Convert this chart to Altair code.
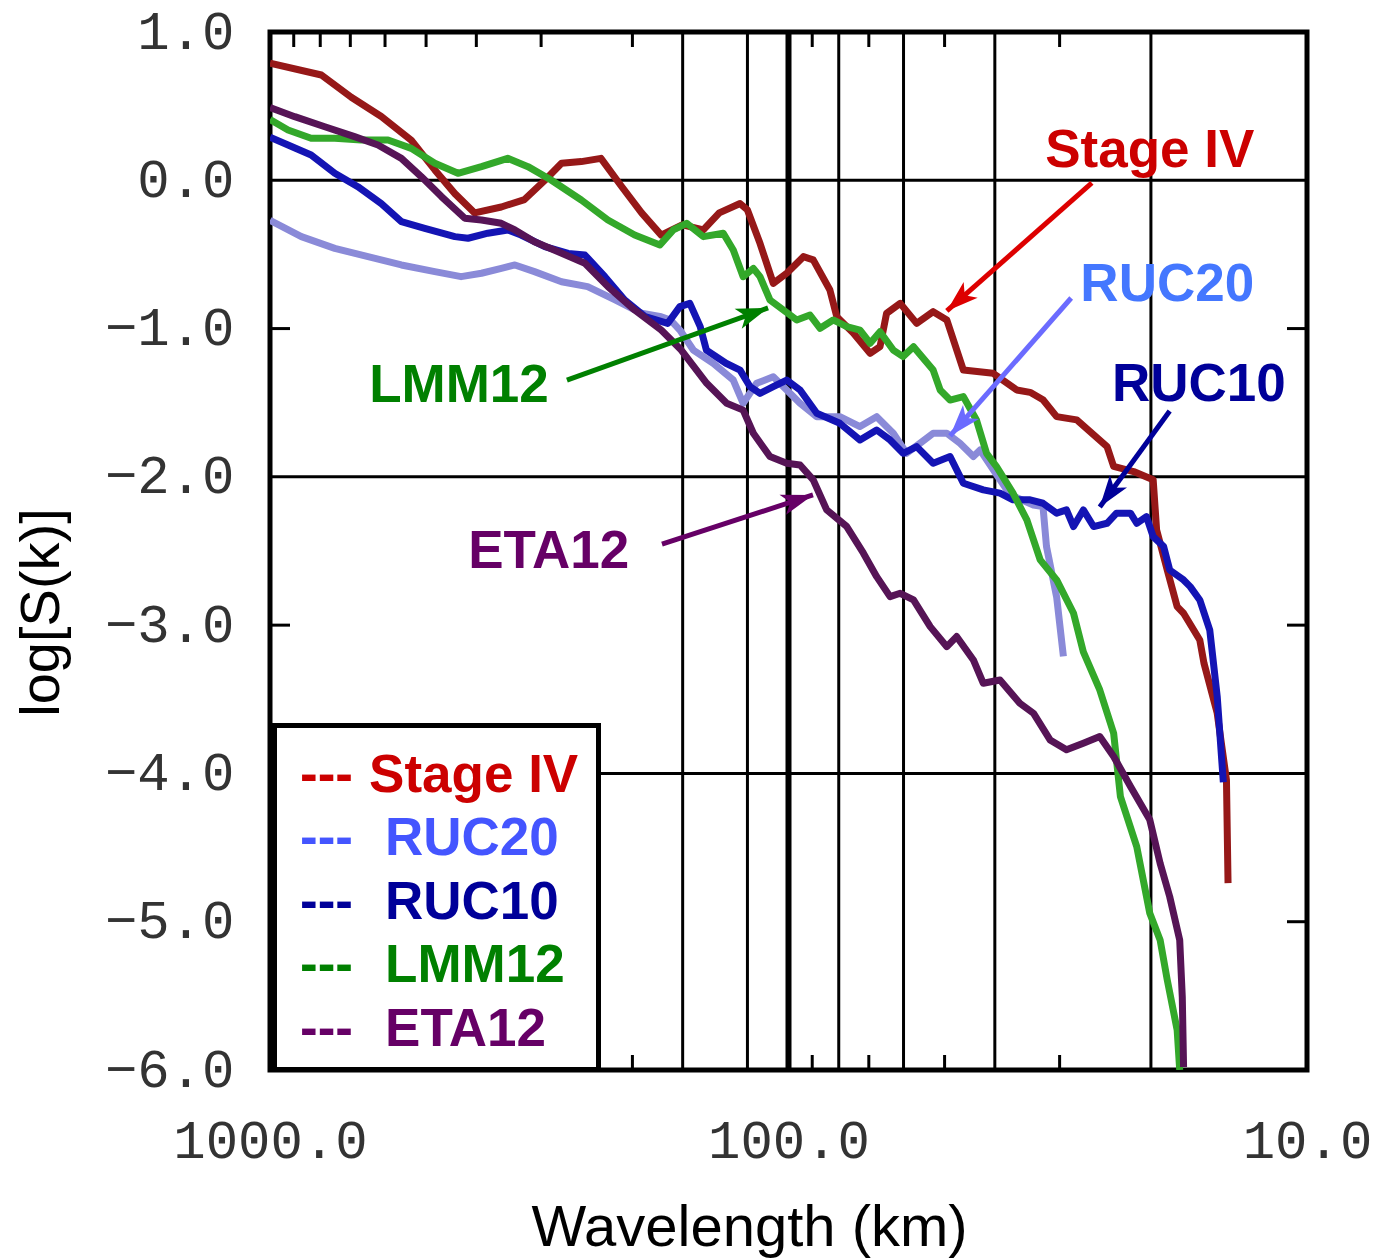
import altair as alt
import pandas as pd

# ---------------- data (wavelength km, log S(k)) ----------------
series_names = ["Stage IV", "RUC20", "RUC10", "LMM12", "ETA12"]
line_colors = {"Stage IV": "#961818", "RUC20": "#8a8ad8", "RUC10": "#1414b4",
               "LMM12": "#33a82a", "ETA12": "#561456"}
draw_order = ["Stage IV", "RUC20", "RUC10", "LMM12", "ETA12"]

stage_iv = [(1000, 0.79), (796, 0.71), (697, 0.56), (610, 0.43), (534, 0.27), (481, 0.07),
            (440, -0.09), (403, -0.22), (358, -0.18), (323, -0.13), (295, 0.0), (274, 0.115),
            (251, 0.126), (230, 0.148), (210, -0.04), (192, -0.22), (176, -0.37), (160, -0.30),
            (146, -0.335), (136, -0.22), (124, -0.157), (120, -0.2), (113.5, -0.425), (107, -0.695),
            (100.8, -0.627), (93.6, -0.515), (89.6, -0.537), (83.2, -0.74), (80.7, -0.92), (75, -1.03),
            (69.6, -1.167), (66.6, -1.122), (64.7, -0.897), (60.9, -0.83), (56.6, -0.965), (52.6, -0.886),
            (49.5, -0.942), (46, -1.28), (40.3, -1.302), (36.3, -1.414), (34.2, -1.43), (32.3, -1.48),
            (30.4, -1.594), (27.8, -1.616), (24.3, -1.796), (23.6, -1.93), (21.6, -1.964), (19.8, -2.02),
            (19.5, -2.358), (18.6, -2.628), (17.8, -2.875), (17.3, -2.92), (16.1, -3.10), (15.8, -3.257),
            (14.9, -3.594), (14.3, -4.044), (14.2, -4.74)]

ruc20 = [(1000, -0.27), (870, -0.38), (750, -0.459), (647, -0.515), (558, -0.571), (481, -0.616),
         (428, -0.65), (391, -0.627), (358, -0.594), (337, -0.571), (309, -0.616), (274, -0.684),
         (244, -0.717), (216, -0.807), (192, -0.897), (176, -0.92), (169, -0.942), (162, -1.01),
         (152.6, -1.145), (139.7, -1.234), (127.8, -1.347), (122.3, -1.504), (115.2, -1.369),
         (107, -1.325), (100.8, -1.414), (95, -1.504), (88.2, -1.594), (79.6, -1.594), (72.8, -1.661),
         (67.6, -1.594), (62.8, -1.706), (59.2, -1.841), (55.8, -1.774), (52.6, -1.706), (49.5, -1.706),
         (46.7, -1.774), (44, -1.863), (42.7, -1.819), (40.3, -1.95), (37.4, -2.12), (33.7, -2.19),
         (32.3, -2.2), (31.8, -2.47), (30.4, -2.81), (29.5, -3.21)]

ruc10 = [(1000, 0.29), (923, 0.238), (833, 0.17), (750, 0.047), (677, -0.043), (610, -0.157),
         (558, -0.279), (503, -0.324), (440, -0.38), (415, -0.391), (380, -0.357), (348, -0.335),
         (328, -0.369), (295, -0.448), (266, -0.493), (247, -0.504), (226, -0.65), (207, -0.807),
         (189, -0.92), (171, -0.965), (162, -0.852), (155, -0.83), (148, -0.987), (144, -1.145),
         (132, -1.234), (124, -1.28), (118.6, -1.392), (113.5, -1.437), (107, -1.392), (100.8, -1.347),
         (95, -1.414), (88.2, -1.571), (79.6, -1.639), (72.8, -1.751), (67.6, -1.684), (63.7, -1.751),
         (60.1, -1.841), (56.6, -1.796), (52.6, -1.908), (48.8, -1.863), (46, -2.043), (42.1, -2.088),
         (39.1, -2.11), (36.9, -2.155), (34.2, -2.155), (32.3, -2.178), (30.4, -2.245), (29.1, -2.223),
         (28.2, -2.335), (27, -2.223), (25.8, -2.335), (24.3, -2.313), (23.3, -2.245), (21.9, -2.245),
         (21.3, -2.313), (20.4, -2.268), (19.8, -2.403), (18.9, -2.47), (18.4, -2.628), (17.3, -2.695),
         (16.8, -2.74), (16.1, -2.83), (15.4, -3.033), (14.9, -3.48), (14.5, -4.06)]

lmm12 = [(1000, 0.41), (923, 0.339), (833, 0.283), (750, 0.283), (667, 0.272), (592, 0.272),
         (534, 0.215), (481, 0.115), (434, 0.047), (391, 0.092), (348, 0.148), (318, 0.092),
         (287, 0.002), (251, -0.133), (223, -0.268), (198, -0.369), (177, -0.436), (166.8, -0.335),
         (157.2, -0.29), (146, -0.38), (133.6, -0.357), (127.8, -0.47), (122.3, -0.65), (116.9, -0.594),
         (113.5, -0.65), (108.6, -0.807), (102.3, -0.875), (96.4, -0.942), (90.9, -0.909), (86.9, -0.998),
         (82, -0.942), (77.2, -0.987), (72.8, -1.01), (69.6, -1.099), (66.6, -1.021), (62.8, -1.145),
         (60.1, -1.189), (57.4, -1.122), (52.6, -1.28), (51.0, -1.414), (48.8, -1.482), (46, -1.459),
         (43.4, -1.616), (41.5, -1.841), (39.7, -1.931), (36.9, -2.11), (34.7, -2.29), (32.7, -2.56),
         (30.4, -2.695), (28.2, -2.92), (27, -3.18), (25.1, -3.437), (23.6, -3.729), (22.9, -4.157),
         (21.3, -4.494), (20.1, -4.943), (19.2, -5.123), (18.6, -5.393), (17.8, -5.73), (17.6, -6.0)]

eta12 = [(1000, 0.49), (896, 0.429), (784, 0.361), (687, 0.294), (619, 0.238), (558, 0.148),
         (511, 0.025), (467, -0.11), (421, -0.256), (391, -0.268), (358, -0.29), (337, -0.335),
         (309, -0.414), (278, -0.482), (247, -0.56), (223, -0.717), (198, -0.875), (176, -1.01),
         (161, -1.145), (143.8, -1.369), (131.6, -1.504), (122.3, -1.55), (116.9, -1.706),
         (108.6, -1.863), (100.8, -1.908), (95, -1.92), (89.6, -2.02), (84.4, -2.223), (77.2, -2.335),
         (71.7, -2.515), (67.6, -2.673), (63.7, -2.808), (60.9, -2.785), (57.4, -2.83), (53.3, -3.01),
         (49.5, -3.145), (47.4, -3.077), (44, -3.235), (42.1, -3.392), (39.1, -3.37), (35.8, -3.527),
         (33.7, -3.594), (31.3, -3.774), (29.1, -3.841), (27, -3.796), (25.1, -3.751), (23.6, -3.886),
         (21.9, -4.088), (20.1, -4.313), (19.2, -4.606), (18.4, -4.831), (17.6, -5.123), (17.4, -5.506),
         (17.3, -5.98)]

series_points = {"Stage IV": stage_iv, "RUC20": ruc20, "RUC10": ruc10,
                 "LMM12": lmm12, "ETA12": eta12}

# axis / grid values
x_label_values = [1000, 100, 10]
y_label_values = [1, 0, -1, -2, -3, -4, -5, -6]
vgrid_wl = [160, 120, 80, 60, 40, 20]
vgrid_thick_wl = [100]
hgrid_val = [0, -2, -4]
minor_tick_wl = [900, 800, 700, 600, 500, 400, 300, 200, 90, 70, 50, 30]
ytick_val = [-1, -3, -5]

# annotations
ann_labels = ["Stage IV", "RUC20", "RUC10", "LMM12", "ETA12"]
ann_wl = [20.1, 18.6, 16.16, 432, 290]
ann_val = [0.09, -0.814, -1.49, -1.495, -2.615]
ann_colors = ["#cc0000", "#4477ff", "#000099", "#008000", "#660066"]

arrow_start_wl = [26.0, 28.5, 18.4, 267.5, 175.4]
arrow_start_val = [-0.018, -0.794, -1.556, -1.347, -2.453]
arrow_tip_wl = [49.5, 48.8, 25.1, 109.5, 89.7]
arrow_tip_val = [-0.881, -1.724, -2.203, -0.861, -2.122]
arrow_angle = [228.6, 221.2, 216.1, 70.3, 72.0]
arrow_colors = ["#dd0000", "#6b6bff", "#000099", "#008000", "#660066"]

legend_colors = ["#cc0000", "#4455ff", "#000099", "#008000", "#660066"]
legend_label_wl = [644, 600, 600, 600, 600]
legend_dash_wl = [875, 875, 875, 875, 875]
legend_val = [-4.125, -4.55, -4.982, -5.406, -5.838]

# ---------------- build tables ----------------
rows = []
for name in draw_order:
    for i, (wl, v) in enumerate(series_points[name]):
        rows.append({"series": name, "wl": wl, "val": v, "idx": i, "col": line_colors[name]})
df = pd.DataFrame(rows)

W, H = 1037, 1038
FONT = "Liberation Sans"
MONO = "Liberation Mono"
GRID_W = 3

x_scale = alt.Scale(type="log", domain=[10, 1000], reverse=True)
y_scale = alt.Scale(domain=[-6, 1], nice=False, zero=False)

x_axis = alt.Axis(values=x_label_values, labelExpr="format(datum.value, '.1f')",
                  labelFont=MONO, labelFontSize=54, labelColor="#333333", labelPadding=44,
                  labelFlush=False, labelOverlap=False, labelBound=False, labelAngle=0,
                  labelLimit=0,
                  ticks=False, domain=False, grid=False,
                  title="Wavelength (km)", titleFont=FONT, titleFontSize=58,
                  titleFontWeight="normal", titleColor="black", titleX=479, titleY=175,
                  titleAlign="center", titleBaseline="alphabetic")
y_axis = alt.Axis(values=y_label_values, labelExpr="format(datum.value, '.1f')",
                  labelFont=MONO, labelFontSize=54, labelColor="#333333", labelPadding=36,
                  labelFlush=False, labelOverlap=False, labelBound=False, labelLimit=0,
                  ticks=False, domain=False, grid=False,
                  title="log[S(k)]", titleFont=FONT, titleFontSize=56,
                  titleFontWeight="normal", titleColor="black", titleX=-212, titleY=580,
                  titleAngle=270, titleAlign="center", titleBaseline="alphabetic")

x_enc = alt.X("wl:Q", scale=x_scale, axis=x_axis)
y_enc = alt.Y("val:Q", scale=y_scale, axis=y_axis)

vgrid = alt.Chart(pd.DataFrame({"wl": vgrid_wl})).mark_rule(color="black", strokeWidth=GRID_W).encode(x=x_enc)
vgrid_thick = alt.Chart(pd.DataFrame({"wl": vgrid_thick_wl})).mark_rule(color="black", strokeWidth=6).encode(x=x_enc)
hgrid = alt.Chart(pd.DataFrame({"val": hgrid_val})).mark_rule(color="black", strokeWidth=GRID_W).encode(y=y_enc)

minor_df = pd.DataFrame({"wl": minor_tick_wl})
top_ticks = alt.Chart(minor_df).mark_rule(color="black", strokeWidth=GRID_W).encode(
    x=x_enc, y=alt.value(0), y2=alt.value(15))
bottom_ticks = alt.Chart(minor_df).mark_rule(color="black", strokeWidth=GRID_W).encode(
    x=x_enc, y=alt.value(H - 15), y2=alt.value(H))
ytick_df = pd.DataFrame({"val": ytick_val})
left_ticks = alt.Chart(ytick_df).mark_rule(color="black", strokeWidth=GRID_W).encode(
    y=y_enc, x=alt.value(0), x2=alt.value(20))
right_ticks = alt.Chart(ytick_df).mark_rule(color="black", strokeWidth=GRID_W).encode(
    y=y_enc, x=alt.value(W - 20), x2=alt.value(W))

lines = alt.Chart(df).mark_line(strokeWidth=7, clip=True, strokeJoin="round").encode(
    x=x_enc, y=y_enc, detail="series:N",
    color=alt.Color("col:N", scale=None), order="idx:Q")

legend_box = alt.Chart(pd.DataFrame({"k": [0]})).mark_rect(
    fill="white", stroke="black", strokeWidth=5).encode(
    x=alt.value(4.5), x2=alt.value(328.5), y=alt.value(693.5), y2=alt.value(1037.5))

leg_df = pd.DataFrame({"label": series_names, "wl": legend_label_wl, "dwl": legend_dash_wl,
                       "val": legend_val, "col": legend_colors, "dash": ["---"] * 5})
legend_dashes = alt.Chart(leg_df).mark_text(font=FONT, fontWeight="bold", fontSize=53,
                                            align="left", baseline="alphabetic").encode(
    x=alt.X("dwl:Q", scale=x_scale, axis=x_axis), y=y_enc, text="dash:N",
    color=alt.Color("col:N", scale=None))
legend_text = alt.Chart(leg_df).mark_text(font=FONT, fontWeight="bold", fontSize=53,
                                          align="left", baseline="alphabetic").encode(
    x=x_enc, y=y_enc, text="label:N", color=alt.Color("col:N", scale=None))

arrow_df = pd.DataFrame({"wl": arrow_start_wl, "val": arrow_start_val,
                         "wl_end": arrow_tip_wl, "val_end": arrow_tip_val, "col": arrow_colors})
arrow_lines = alt.Chart(arrow_df).mark_rule(strokeWidth=5).encode(
    x=x_enc, y=y_enc, x2="wl_end:Q", y2="val_end:Q", color=alt.Color("col:N", scale=None))

head_df = pd.DataFrame({"wl": arrow_tip_wl, "val": arrow_tip_val, "ang": arrow_angle,
                        "col": arrow_colors})
ARROW = "M0,0 L-0.8,2.4 L0,1.8 L0.8,2.4 Z"
arrow_heads = alt.Chart(head_df).mark_point(shape=ARROW, filled=True, size=700,
                                            opacity=1, strokeWidth=0).encode(
    x=x_enc, y=y_enc, angle=alt.Angle("ang:Q", scale=None),
    color=alt.Color("col:N", scale=None))

ann_df = pd.DataFrame({"label": ann_labels, "wl": ann_wl, "val": ann_val, "col": ann_colors})
ann_text = alt.Chart(ann_df).mark_text(font=FONT, fontWeight="bold", fontSize=53,
                                       align="center", baseline="alphabetic").encode(
    x=x_enc, y=y_enc, text="label:N", color=alt.Color("col:N", scale=None))

chart = alt.layer(
    vgrid, vgrid_thick, hgrid, top_ticks, bottom_ticks, left_ticks, right_ticks,
    lines, legend_box, legend_dashes, legend_text, arrow_lines, arrow_heads, ann_text
).properties(
    width=W, height=H,
    autosize=alt.AutoSizeParams(type="none"),
    padding={"left": 270, "top": 32, "right": 70, "bottom": 188},
    background="white",
).configure_view(stroke="black", strokeWidth=5)

chart.save("out.html", embed_options={"renderer": "svg", "actions": False})
